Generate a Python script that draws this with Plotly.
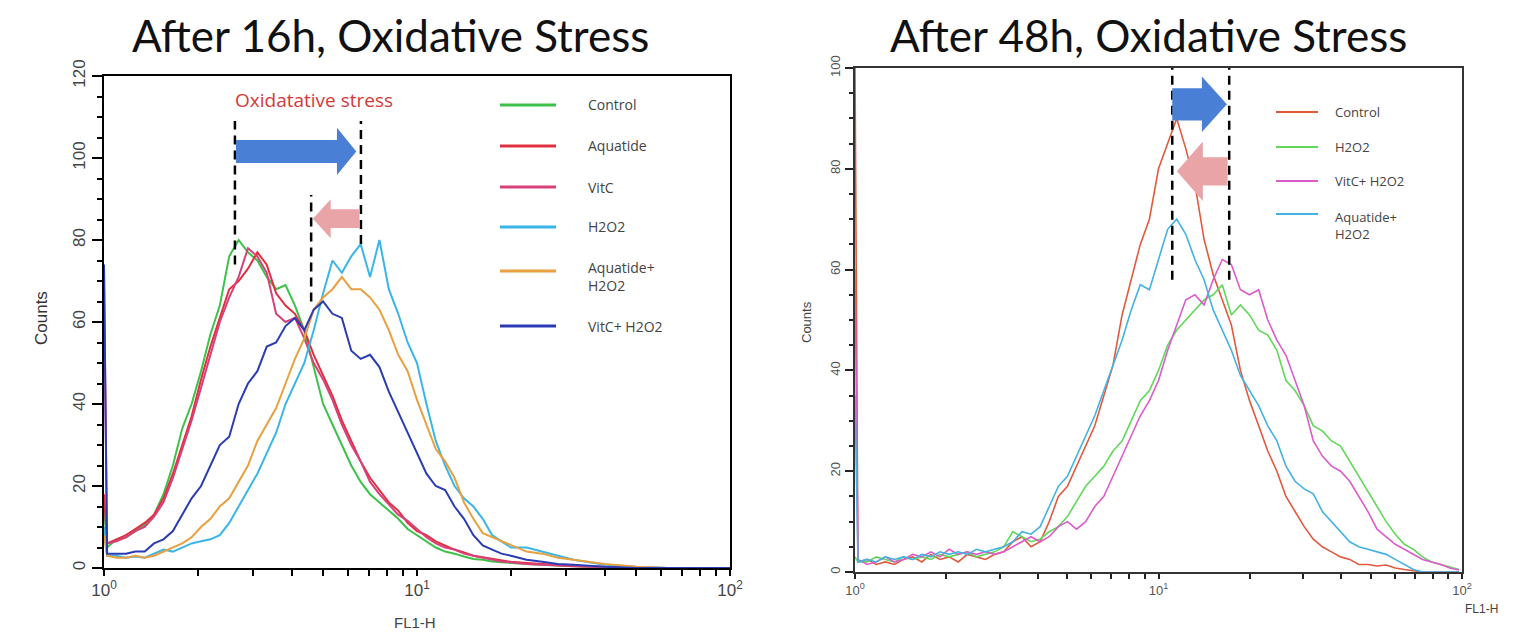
import math
import plotly.graph_objects as go

# ---------------- DATA ----------------
# Left panel: After 16h (FL1-H channel values, log scale)
x_16h = [1.0, 1.023, 1.096, 1.175, 1.259, 1.349, 1.445, 1.549, 1.660, 1.778,
         1.905, 2.042, 2.188, 2.344, 2.512, 2.692, 2.884, 3.090, 3.311, 3.548,
         3.802, 4.074, 4.365, 4.677, 5.012, 5.370, 5.754, 6.166, 6.607, 7.079,
         7.586, 8.128, 8.710, 9.333, 10.0, 10.72, 11.48, 12.30, 13.18, 14.13,
         15.14, 16.22, 17.38, 18.62, 19.95, 22.39, 25.12, 28.18, 31.62, 39.81,
         50.12, 63.10, 79.43, 100.0]

control_16h = [15, 5, 7, 7.5, 9, 10.5, 13, 18, 25, 34,
               40, 48, 57, 64, 76, 80, 77, 75, 71, 68,
               69, 64, 58, 49, 40, 35, 30, 25, 21, 18,
               16, 14, 12, 9.5, 8, 6.5, 5, 4, 3.5, 2.8,
               2.2, 2, 1.6, 1.4, 1.2, 1, 0.8, 0.6, 0.4, 0.2,
               0, 0, 0, 0]
aquatide_16h = [18, 6, 7, 8, 9.5, 11, 13, 17, 23, 30,
                37, 46, 54, 61, 68, 70, 73, 77, 74, 67,
                64, 62, 58, 52, 47, 42, 36, 31, 26, 22,
                19, 16, 14, 11, 9, 8, 6.5, 5.5, 4.5, 3.8,
                3, 2.6, 2.2, 1.8, 1.5, 1.2, 1, 0.7, 0.5, 0.3,
                0.1, 0, 0, 0]
vitc_16h = [72, 6, 6.5, 7.5, 9, 10, 12.5, 16, 22, 29,
            36, 44, 52, 60, 66, 71, 78, 76, 72, 62,
            60, 61, 56, 50, 46, 41, 35, 30, 26, 21,
            18, 15.5, 13, 11.5, 9.5, 7.5, 6, 5, 4.5, 3.5,
            3, 2.5, 2, 1.6, 1.4, 1, 0.8, 0.6, 0.4, 0.2,
            0, 0, 0, 0]
h2o2_16h = [10, 3, 3, 2.5, 2.8, 2.5, 3.5, 4.5, 4, 5,
            6, 6.5, 7, 8, 11, 15, 19, 23, 28, 33,
            40, 45, 50, 58, 67, 75, 72, 76, 79, 71,
            80, 68, 62, 55, 50, 40, 31, 25, 20, 17,
            15, 12, 8, 6.5, 5, 5, 4, 3, 2, 0.8,
            0.3, 0, 0, 0]
aqua_h2o2_16h = [8, 3, 2.5, 2.5, 3, 2.5, 3, 4, 5, 6,
                 7.5, 10, 12, 15, 17, 21, 25, 31, 35, 39,
                 45, 51, 56, 63, 66, 68, 71, 68, 68, 66,
                 63, 58, 52, 48, 41, 35, 29, 26, 22, 16,
                 12, 8.5, 7.5, 6.5, 5.5, 4, 3.5, 2.5, 2, 1,
                 0.3, 0, 0, 0]
vitc_h2o2_16h = [74, 3.5, 3.5, 3.5, 4, 4, 6, 7, 9, 13,
                 17, 20, 25, 30, 32, 40, 45, 48, 54, 55,
                 59, 61, 58, 63, 65, 62, 61, 53, 51, 52,
                 49, 43, 38, 33, 28, 23, 20, 19, 15, 12,
                 8, 5.5, 4.5, 3.5, 3, 2, 1.5, 1, 0.8, 0.3,
                 0, 0, 0, 0]

names_16h = ["Control", "Aquatide", "VitC", "H2O2", "Aquatide+<br>H2O2", "VitC+ H2O2"]
colors_16h = ["#3cc24a", "#e0303e", "#d8407a", "#3ab6e6", "#e8a040", "#2a3cb4"]
series_16h = [control_16h, aquatide_16h, vitc_16h, h2o2_16h, aqua_h2o2_16h, vitc_h2o2_16h]

# Right panel: After 48h
x_48h = [1.0, 1.023, 1.096, 1.175, 1.259, 1.349, 1.445, 1.549, 1.660, 1.778,
         1.905, 2.042, 2.188, 2.344, 2.512, 2.692, 2.884, 3.090, 3.311, 3.548,
         3.802, 4.074, 4.365, 4.677, 5.012, 5.370, 5.754, 6.166, 6.607, 7.079,
         7.586, 8.128, 8.710, 9.333, 10.0, 10.72, 11.48, 12.30, 13.18, 14.13,
         15.14, 16.22, 17.38, 18.62, 19.95, 21.38, 22.91, 24.55, 26.30, 28.18,
         30.20, 32.36, 34.67, 37.15, 39.81, 42.66, 45.71, 48.98, 52.48, 56.23,
         60.26, 64.57, 69.18, 74.13, 79.43, 85.11, 91.20, 97.72]

control_48h = [100, 2, 2.5, 1.5, 2, 1.5, 2.5, 3, 2, 3.5,
               2.5, 3, 2, 3.5, 3, 2.5, 3.5, 4, 6, 7,
               5, 6, 10, 15, 17, 21, 25, 29, 35, 41,
               51, 58, 65, 70, 80, 85, 90, 84, 77, 66,
               59, 54, 49, 40, 34, 29, 24, 20, 15, 12,
               9, 6.5, 5, 4, 3, 2.5, 1.5, 1.5, 1.2, 1.4,
               0.8, 0.5, 0.3, 0, 0, 0, 0, 0]
h2o2_48h = [3, 2, 2, 3, 2.5, 2, 3, 2.5, 3, 2.5,
            3.5, 3, 3.5, 4, 3, 3.5, 4, 5, 8, 7,
            6, 6.5, 8, 9, 11, 14, 17, 19, 21, 24,
            26, 30, 34, 36, 40, 45, 48, 50, 52, 54,
            55, 57, 51, 53, 51, 48, 47, 44, 38, 36,
            33, 29, 28, 26, 25, 22, 19, 16, 13, 10,
            7.5, 5.5, 4.5, 3, 2, 1.5, 1, 0.5]
vitc_h2o2_48h = [60, 2.5, 1.5, 2, 3, 2, 2.5, 3.5, 3, 4,
                 3, 4.5, 3.5, 4, 3.5, 4, 3.5, 4, 5, 6,
                 7, 6, 7, 9, 10, 8.5, 10, 13, 15, 19,
                 23, 27, 31, 34, 38, 44, 49, 54, 55, 53,
                 58, 62, 61, 56, 55, 56, 50, 46, 43, 38,
                 33, 26, 23, 21, 20, 18, 15, 12, 8.5, 7,
                 5.5, 4.5, 3.5, 2.5, 2, 1.5, 0.8, 0.4]
aqua_h2o2_48h = [35, 2, 2.5, 2, 3, 2.5, 3, 2.5, 3.5, 3,
                 4, 3.5, 4, 3.5, 4.5, 4, 4.5, 5, 6, 8,
                 7.5, 9, 13, 17, 19, 23, 27, 31, 36, 41,
                 46, 52, 57, 56, 62, 68, 70, 67, 62, 58,
                 52, 48, 44, 39, 36, 33, 29, 26, 21, 18,
                 16.5, 15.5, 12, 10, 8, 6, 5, 4.5, 4, 3.5,
                 2.5, 1.5, 0.5, 0, 0, 0, 0, 0]

names_48h = ["Control", "H2O2", "VitC+ H2O2", "Aquatide+<br>H2O2"]
colors_48h = ["#e25a3e", "#62d85a", "#dc5ccc", "#44b2e2"]
series_48h = [control_48h, h2o2_48h, vitc_h2o2_48h, aqua_h2o2_48h]

for s in series_16h:
    assert len(s) == len(x_16h), len(s)
for s in series_48h:
    assert len(s) == len(x_48h), len(s)

# Annotation markers (FL1-H values / counts)
dash_16h = [(2.62, 74, 109), (4.59, 65, 91), (6.62, 79, 109)]
dash_48h = [(11.1, 58, 100), (17.1, 58, 100)]

# page body has an 8px margin; figure sized so that it fits the window
OFF = 8
W, H = 1498, 626


def px(x):
    return (x - OFF) / W


def py(y):
    return 1 - (y - OFF) / H


L_DOM = [px(104), px(730)]
R_DOM = [px(855), px(1462)]
L_YDOM = [py(568), py(76)]
R_YDOM = [py(572), py(68)]

fig = go.Figure()

for name, col, ys in zip(names_16h, colors_16h, series_16h):
    fig.add_trace(go.Scatter(x=x_16h, y=ys, mode="lines", name=name,
                             line=dict(color=col, width=2), xaxis="x", yaxis="y",
                             showlegend=False))
for name, col, ys in zip(names_48h, colors_48h, series_48h):
    fig.add_trace(go.Scatter(x=x_48h, y=ys, mode="lines", name=name,
                             line=dict(color=col, width=1.6), xaxis="x2", yaxis="y2",
                             showlegend=False))

# dashed guide lines
for xv, y0, y1 in dash_16h:
    fig.add_trace(go.Scatter(x=[xv, xv], y=[y0, y1], mode="lines", xaxis="x", yaxis="y",
                             line=dict(color="black", width=2.5, dash="9px,6px"),
                             showlegend=False, hoverinfo="skip"))
for xv, y0, y1 in dash_48h:
    fig.add_trace(go.Scatter(x=[xv, xv], y=[y0, y1], mode="lines", xaxis="x2", yaxis="y2",
                             line=dict(color="black", width=2.5, dash="9px,6px"),
                             showlegend=False, hoverinfo="skip"))


def arrow(x_tail, x_head_base, x_tip, yc, shaft_h, head_h, color, xa, ya):
    lt, lb, lp = math.log10(x_tail), math.log10(x_head_base), math.log10(x_tip)
    xs = [lt, lb, lb, lp, lb, lb, lt, lt]
    ys = [yc + shaft_h / 2, yc + shaft_h / 2, yc + head_h / 2, yc,
          yc - head_h / 2, yc - shaft_h / 2, yc - shaft_h / 2, yc + shaft_h / 2]
    fig.add_trace(go.Scatter(x=[10 ** v for v in xs], y=ys, mode="lines", fill="toself",
                             fillcolor=color, line=dict(color=color, width=0),
                             xaxis=xa, yaxis=ya, showlegend=False, hoverinfo="skip"))


BLUE_ARROW = "#4a7fd6"
PINK_ARROW = "#e9a4a8"
arrow(2.64, 5.55, 6.4, 101.6, 5.6, 11.5, BLUE_ARROW, "x", "y")
arrow(6.55, 5.3, 4.65, 85.2, 4.6, 9.5, PINK_ARROW, "x", "y")
arrow(11.1, 13.9, 16.8, 92.8, 6.4, 11.0, BLUE_ARROW, "x2", "y2")
arrow(16.9, 14.0, 11.5, 79.5, 5.6, 11.8, PINK_ARROW, "x2", "y2")

log_ticks = [1, 2, 3, 4, 5, 6, 7, 8, 9, 10, 20, 30, 40, 50, 60, 70, 80, 90, 100]
log_text = ["10<sup>0</sup>"] + [""] * 8 + ["10<sup>1</sup>"] + [""] * 8 + ["10<sup>2</sup>"]

TICKFONT = dict(family="Liberation Sans, Arial", size=17, color="#444")
fig.update_layout(
    width=W, height=H, margin=dict(l=0, r=0, t=0, b=0),
    paper_bgcolor="white", plot_bgcolor="white",
    xaxis=dict(domain=L_DOM, anchor="y", type="log", range=[0, 2], automargin=False,
               tickvals=log_ticks, ticktext=log_text, ticks="outside", ticklen=6,
               tickwidth=2, tickcolor="black", showline=True, linecolor="black",
               linewidth=2, mirror=True, showgrid=False, zeroline=False,
               tickfont=TICKFONT),
    yaxis=dict(domain=L_YDOM, anchor="x", range=[0, 120], tickvals=[0, 20, 40, 60, 80, 100, 120],
               automargin=False,
               tickangle=-90, ticks="outside", ticklen=10, tickwidth=2, tickcolor="black",
               minor=dict(dtick=5, ticks="outside", ticklen=5, tickwidth=2, tickcolor="black"),
               showline=True, linecolor="black", linewidth=2, mirror=True,
               showgrid=False, zeroline=False, tickfont=TICKFONT),
    xaxis2=dict(domain=R_DOM, anchor="y2", type="log", range=[0, 2], automargin=False,
                tickvals=log_ticks, ticktext=log_text, ticks="outside", ticklen=5,
                tickwidth=2, tickcolor="#222", showline=True, linecolor="#333",
                linewidth=2, mirror=True, showgrid=False, zeroline=False,
                tickfont=dict(family="Liberation Sans, Arial", size=13, color="#555")),
    yaxis2=dict(domain=R_YDOM, anchor="x2", range=[0, 100], tickvals=[0, 20, 40, 60, 80, 100],
                automargin=False,
                tickangle=-90, ticks="outside", ticklen=8, tickwidth=2, tickcolor="#222",
                minor=dict(dtick=5, ticks="outside", ticklen=4, tickwidth=1.5, tickcolor="#222"),
                showline=True, linecolor="#333", linewidth=2, mirror=True,
                showgrid=False, zeroline=False,
                tickfont=dict(family="Liberation Sans, Arial", size=13, color="#555")),
)

ann = []


def label(text, x, y, font, angle=0, xanchor="center", align="center"):
    ann.append(dict(text=text, x=px(x), y=py(y), xref="paper", yref="paper",
                    xanchor=xanchor, yanchor="middle", align=align, textangle=angle,
                    showarrow=False, font=font))


TITLE_FONT = dict(family="Lato, Noto Sans", size=44, color="#111")
label("After 16h, Oxidative Stress", 390, 35, TITLE_FONT)
label("After 48h, Oxidative Stress", 1148, 35, TITLE_FONT)
label("Oxidatative stress", 314, 100, dict(family="Open Sans", size=19, color="#d43a3a"))
label("Counts", 41, 318, dict(family="Liberation Sans, Arial", size=17, color="#333"), angle=-90)
label("FL1-H", 415, 622, dict(family="Liberation Sans, Arial", size=15, color="#444"))
label("Counts", 806, 322, dict(family="Liberation Sans, Arial", size=13, color="#444"), angle=-90)
label("FL1-H", 1481, 609, dict(family="Liberation Sans, Arial", size=12, color="#444"))

shapes = []
LEG_FONT_L = dict(family="Open Sans", size=14, color="#444")
LEG_FONT_R = dict(family="Open Sans", size=13, color="#444")
# left legend
leg_l_line_y = [105, 146, 187, 227, 271, 326]
leg_l_text_y = [105, 146, 187, 227, 276, 326]
for name, col, ly, ty in zip(names_16h, colors_16h, leg_l_line_y, leg_l_text_y):
    shapes.append(dict(type="line", xref="paper", yref="paper", x0=px(500), x1=px(556),
                       y0=py(ly), y1=py(ly), line=dict(color=col, width=3)))
    label(name, 586, ty, LEG_FONT_L, xanchor="left", align="left")
# right legend
leg_r_line_y = [112, 147, 181, 214]
leg_r_text_y = [112, 147, 181, 225]
for name, col, ly, ty in zip(names_48h, colors_48h, leg_r_line_y, leg_r_text_y):
    shapes.append(dict(type="line", xref="paper", yref="paper", x0=px(1276), x1=px(1318),
                       y0=py(ly), y1=py(ly), line=dict(color=col, width=2)))
    label(name, 1333, ty, LEG_FONT_R, xanchor="left", align="left")

fig.update_layout(annotations=ann, shapes=shapes)
fig.write_html("out.html")
